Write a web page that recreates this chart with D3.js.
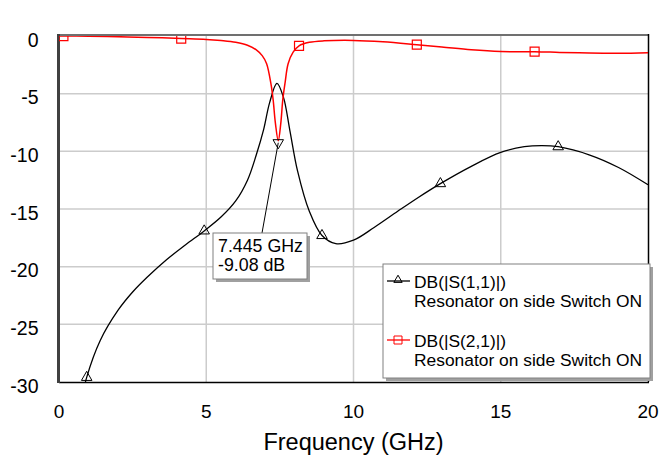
<!DOCTYPE html>
<html>
<head>
<meta charset="utf-8">
<script src="https://cdn.jsdelivr.net/npm/d3@7.9.0/dist/d3.min.js"></script>
<style>
  body { margin: 0; background: #fff; }
  svg { font-family: "Liberation Sans", Arial, sans-serif; }
</style>
</head>
<body>
<svg id="chart" width="660" height="458"></svg>
<script>
// S(1,1) curve (GHz, dB)
const s11Freq = [0.8, 0.94, 1.4, 2.0, 2.5, 3.0, 3.65, 4.3, 4.93, 5.5, 6.0, 6.4, 6.7, 6.95, 7.15, 7.4, 7.62, 7.84, 8.1, 8.5, 8.93, 9.4, 10.0, 10.7, 11.5, 12.2, 12.95, 14.0, 15.0, 15.8, 16.4, 16.95, 18.0, 19.0, 20.0];
const s11Db   = [-31.2, -29.6, -26.4, -23.8, -22.2, -20.9, -19.4, -18.1, -16.9, -15.7, -14.3, -12.5, -10.3, -8.1, -5.8, -4.1, -5.3, -8.2, -11.7, -15.2, -17.3, -18.0, -17.7, -16.6, -15.2, -14.0, -12.8, -11.3, -10.1, -9.6, -9.5, -9.6, -10.3, -11.4, -12.9];
// S(2,1) curve
const s21Freq = [0, 1, 2, 3, 4.15, 5, 5.5, 6, 6.4, 6.7, 6.9, 7.05, 7.2, 7.27, 7.35, 7.445, 7.53, 7.6, 7.68, 7.78, 7.95, 8.15, 8.5, 9, 10, 11, 12.15, 13, 14, 15, 16.15, 17, 18, 19, 20];
const s21Db   = [0, -0.02, -0.06, -0.12, -0.22, -0.3, -0.4, -0.55, -0.8, -1.2, -1.7, -2.4, -4.2, -5.5, -7.6, -9.08, -7.6, -5.5, -4.0, -2.4, -1.4, -0.85, -0.55, -0.42, -0.38, -0.5, -0.75, -0.95, -1.2, -1.35, -1.36, -1.42, -1.48, -1.5, -1.45];
// symbol markers along each trace
const s11MarkFreq = [0.94, 4.93, 8.93, 12.95, 16.95];
const s11MarkDb   = [-29.6, -16.9, -17.3, -12.8, -9.6];
const s21MarkFreq = [0.15, 4.15, 8.15, 12.15, 16.15];
const s21MarkDb   = [-0.01, -0.22, -0.85, -0.75, -1.36];
// marker readout
const markFreq = 7.445;
const markDb = -9.08;
const markText = ["7.445 GHz", "-9.08 dB"];

const xTicks = [0, 5, 10, 15, 20];
const yTicks = [0, -5, -10, -15, -20, -25, -30];
const legendLabels = [
  ["DB(|S(1,1)|)", "Resonator on side Switch ON"],
  ["DB(|S(2,1)|)", "Resonator on side Switch ON"]
];

const margin = { top: 36, right: 12, bottom: 76, left: 59 };
const W = 660, H = 458;
const svg = d3.select('#chart');
const x = d3.scaleLinear().domain([0, 20]).range([margin.left, W - margin.right]);
const y = d3.scaleLinear().domain([-30, 0]).range([H - margin.bottom, margin.top]);

svg.append('defs').append('clipPath').attr('id', 'plot')
  .append('rect')
  .attr('x', x(0)).attr('y', y(0))
  .attr('width', x(20) - x(0)).attr('height', y(-30) - y(0));

// grid
svg.append('g').selectAll('line').data(xTicks.slice(1, -1)).enter().append('line')
  .attr('x1', d => x(d)).attr('x2', d => x(d))
  .attr('y1', y(0)).attr('y2', y(-30))
  .attr('stroke', '#cccccc').attr('stroke-width', 1.5);
svg.append('g').selectAll('line').data(yTicks.slice(1, -1)).enter().append('line')
  .attr('x1', x(0)).attr('x2', x(20))
  .attr('y1', d => y(d)).attr('y2', d => y(d))
  .attr('stroke', '#cccccc').attr('stroke-width', 1.5);

// frame
svg.append('line').attr('x1', x(0)).attr('x2', x(20)).attr('y1', y(0) - 1).attr('y2', y(0) - 1)
  .attr('stroke', '#707070').attr('stroke-width', 2);
svg.append('line').attr('x1', x(20) + 0.5).attr('x2', x(20) + 0.5).attr('y1', y(0) - 2).attr('y2', y(-30))
  .attr('stroke', '#000').attr('stroke-width', 1.5);
svg.append('line').attr('x1', x(0)).attr('x2', x(20) + 1).attr('y1', y(-30) + 0.5).attr('y2', y(-30) + 0.5)
  .attr('stroke', '#000').attr('stroke-width', 1.5);
svg.append('line').attr('x1', x(0) - 0.5).attr('x2', x(0) - 0.5).attr('y1', y(0) - 2).attr('y2', y(-30) + 1)
  .attr('stroke', '#404040').attr('stroke-width', 3);

// tick labels
svg.append('g').selectAll('text').data(xTicks).enter().append('text')
  .attr('x', d => x(d)).attr('y', 418)
  .attr('text-anchor', 'middle').attr('font-size', 19).text(d => d);
svg.append('g').selectAll('text').data(yTicks).enter().append('text')
  .attr('x', 38.5).attr('y', d => y(d)).attr('dy', '0.55em')
  .attr('text-anchor', 'end').attr('font-size', 19.5).text(d => d);
svg.append('text').attr('x', (x(0) + x(20)) / 2).attr('y', 450)
  .attr('text-anchor', 'middle').attr('font-size', 23.5).text('Frequency (GHz)');

// traces
const line = d3.line().x(d => x(d[0])).y(d => y(d[1])).curve(d3.curveCatmullRom.alpha(0.5));
const plot = svg.append('g').attr('clip-path', 'url(#plot)');
const tri = d3.symbol(d3.symbolTriangle, 48);
const sq = d3.symbol(d3.symbolSquare, 81);

plot.append('path').datum(d3.zip(s11Freq, s11Db)).attr('d', line)
  .attr('fill', 'none').attr('stroke', '#000').attr('stroke-width', 1.3);
plot.append('path').datum(d3.zip(s21Freq, s21Db)).attr('d', line)
  .attr('fill', 'none').attr('stroke', '#ff0000').attr('stroke-width', 1.5);

plot.selectAll('.m11').data(d3.zip(s11MarkFreq, s11MarkDb)).enter().append('path')
  .attr('class', 'm11').attr('d', tri)
  .attr('transform', d => `translate(${x(d[0])},${y(d[1])})`)
  .attr('fill', 'none').attr('stroke', '#000').attr('stroke-width', 1);
plot.selectAll('.m21').data(d3.zip(s21MarkFreq, s21MarkDb)).enter().append('path')
  .attr('class', 'm21').attr('d', sq)
  .attr('transform', d => `translate(${x(d[0])},${y(d[1])})`)
  .attr('fill', 'none').attr('stroke', '#ff0000').attr('stroke-width', 1.2);

// marker readout
const mx = x(markFreq), my = y(markDb);
const bx = 213, by = 233, bw = 94, bh = 46;
svg.append('line').attr('x1', mx).attr('y1', my + 2).attr('x2', bx + 49).attr('y2', by)
  .attr('stroke', '#000').attr('stroke-width', 1);
svg.append('path').attr('d', tri)
  .attr('transform', `translate(${mx},${my + 2}) rotate(180)`)
  .attr('fill', 'none').attr('stroke', '#000').attr('stroke-width', 1);
svg.append('rect').attr('x', bx + 3).attr('y', by + 3).attr('width', bw).attr('height', bh).attr('fill', '#a0a0a0');
svg.append('rect').attr('x', bx).attr('y', by).attr('width', bw).attr('height', bh)
  .attr('fill', '#fff').attr('stroke', '#808080').attr('stroke-width', 1);
svg.append('g').selectAll('text').data(markText).enter().append('text')
  .attr('x', bx + 5).attr('y', (d, i) => 252 + i * 19)
  .attr('font-size', 17.8).text(d => d);

// legend
const lx = 383, ly = 264, lw = 267, lh = 114;
svg.append('rect').attr('x', lx + 3).attr('y', ly + 3).attr('width', lw).attr('height', lh).attr('fill', '#a0a0a0');
svg.append('rect').attr('x', lx).attr('y', ly).attr('width', lw).attr('height', lh)
  .attr('fill', '#fff').attr('stroke', '#808080').attr('stroke-width', 1);
const colors = ['#000', '#ff0000'];
legendLabels.forEach((lab, i) => {
  const ry = 281 + i * 59;
  svg.append('line').attr('x1', 387).attr('x2', 410).attr('y1', ry).attr('y2', ry)
    .attr('stroke', colors[i]).attr('stroke-width', 1.3);
  svg.append('path').attr('d', i === 0 ? d3.symbol(d3.symbolTriangle, 30) : d3.symbol(d3.symbolSquare, 64))
    .attr('transform', `translate(398,${ry - (i === 0 ? 1 : 0)})`)
    .attr('fill', 'none').attr('stroke', colors[i]).attr('stroke-width', 1);
  lab.forEach((t, j) => {
    svg.append('text').attr('x', 414).attr('y', ry + 7 + j * 19)
      .attr('font-size', 17.4).text(t);
  });
});
</script>
</body>
</html>
